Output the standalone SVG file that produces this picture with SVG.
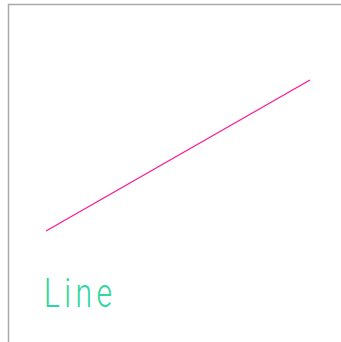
<svg xmlns="http://www.w3.org/2000/svg" width="341" height="342" viewBox="0 0 341 342">
<style>
.frame{stroke:#aaaaaa;stroke-width:1.5;fill:none}
.lbl{font-family:"Roboto","Liberation Sans",sans-serif;font-weight:300;font-size:40px;fill:#2ed6a0}
</style>
<rect width="341" height="342" fill="#ffffff"/>
<path class="frame" d="M8.5,342 V4.5 H341"/>
<g id="connectors">
<line x1="46" y1="231" x2="310" y2="80" stroke="#ff1493" stroke-width="1.2"/>
</g>
<g id="label">
<text class="lbl" x="44" y="307" transform="translate(44 307) scale(0.75 1) translate(-44 -307)" letter-spacing="6">Line</text>
</g>
</svg>
